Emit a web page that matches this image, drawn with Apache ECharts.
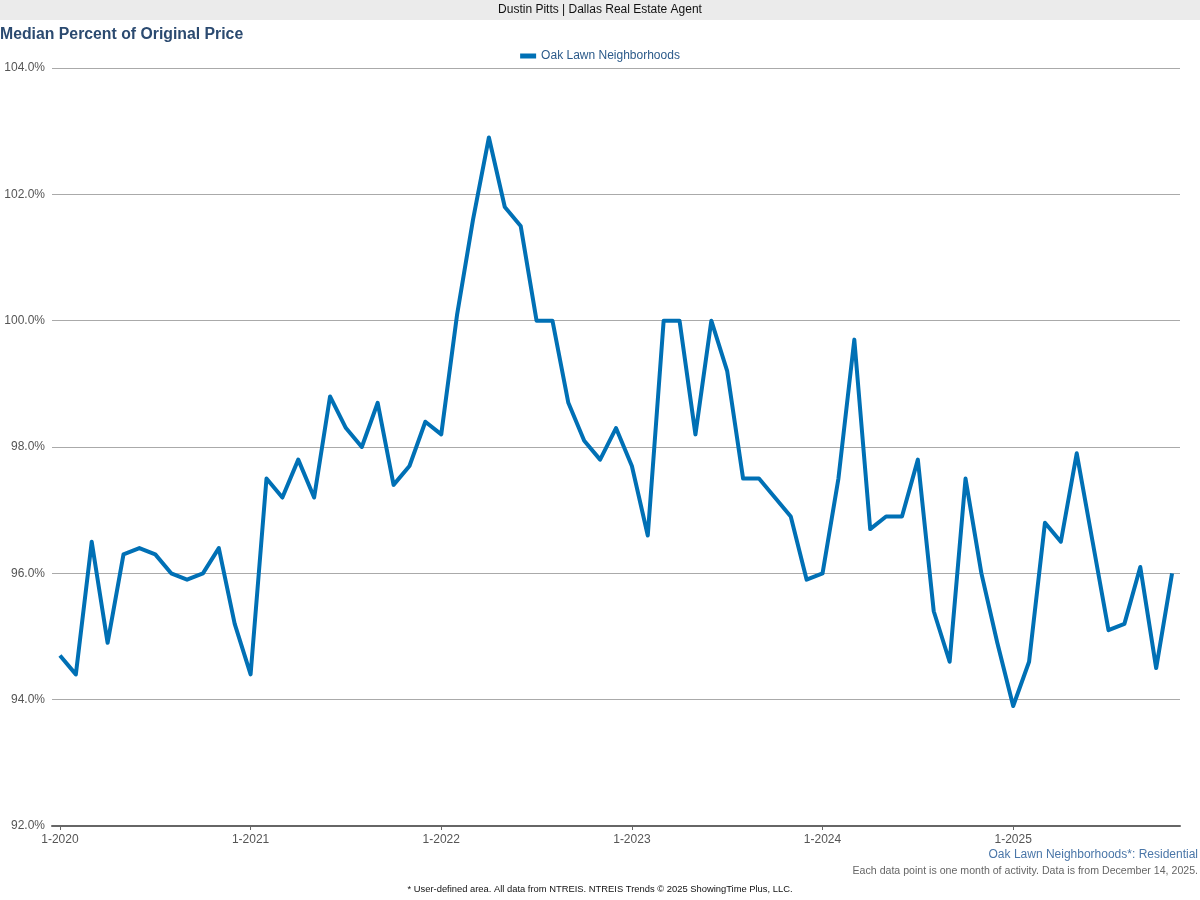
<!DOCTYPE html>
<html>
<head>
<meta charset="utf-8">
<script src="https://cdn.jsdelivr.net/npm/echarts@6/dist/echarts.min.js"></script>
<style>html,body{margin:0;padding:0;background:#fff}#c{width:1200px;height:900px}</style>
</head>
<body>
<div id="c"></div>
<script>
const seriesName = 'Oak Lawn Neighborhoods';
const months = [];
for (let y = 2020; y <= 2025; y++) for (let m = 1; m <= 12; m++) months.push(m + '-' + y);
const categories = months.slice(0, 71);
const values = [
  94.7, 94.4, 96.5, 94.9, 96.3, 96.4, 96.3, 96.0, 95.9, 96.0, 96.4, 95.2,
  94.4, 97.5, 97.2, 97.8, 97.2, 98.8, 98.3, 98.0, 98.7, 97.4, 97.7, 98.4,
  98.2, 100.1, 101.6, 102.9, 101.8, 101.5, 100.0, 100.0, 98.7, 98.1, 97.8, 98.3,
  97.7, 96.6, 100.0, 100.0, 98.2, 100.0, 99.2, 97.5, 97.5, 97.2, 96.9, 95.9,
  96.0, 97.5, 99.7, 96.7, 96.9, 96.9, 97.8, 95.4, 94.6, 97.5, 96.0, 94.9,
  93.9, 94.6, 96.8, 96.5, 97.9, 96.5, 95.1, 95.2, 96.1, 94.5, 96.0
];
const yTicks = { min: 92, max: 104, interval: 2 };

const chart = echarts.init(document.getElementById('c'));
const font = 'Liberation Sans, Arial, sans-serif';
chart.setOption({
  animation: false,
  textStyle: { fontFamily: font },
  graphic: [
    { type: 'rect', left: 0, top: 0, shape: { width: 1200, height: 20 }, style: { fill: '#ebebeb' }, silent: true },
    { type: 'text', left: 'center', top: 4, style: { text: 'Dustin Pitts | Dallas Real Estate Agent', fill: '#111', font: '12px ' + font } },
    { type: 'text', right: 2, top: 849, style: { text: 'Oak Lawn Neighborhoods*: Residential', fill: '#4a76a8', font: '12px ' + font } },
    { type: 'text', right: 2, top: 866, style: { text: 'Each data point is one month of activity. Data is from December 14, 2025.', fill: '#666', font: '10.6px ' + font } },
    { type: 'text', left: 'center', top: 885, style: { text: '* User-defined area. All data from NTREIS. NTREIS Trends \u00a9 2025 ShowingTime Plus, LLC.', fill: '#111', font: '9.4px ' + font } }
  ],
  title: {
    text: 'Median Percent of Original Price',
    left: 0, top: 27,
    padding: 0,
    textStyle: { color: '#2b4a70', fontSize: 15.8, fontWeight: 'bold', fontFamily: font }
  },
  legend: {
    top: 45, left: 'center',
    itemWidth: 16, itemHeight: 5,
    icon: 'rect',
    textStyle: { color: '#2b5a8a', fontSize: 12, fontFamily: font },
    data: [seriesName]
  },
  grid: { left: 52, right: 20, top: 68, bottom: 74, containLabel: false },
  xAxis: {
    type: 'category',
    data: categories,
    boundaryGap: true,
    axisLine: { lineStyle: { color: '#666', width: 2 } },
    axisTick: { show: true, alignWithLabel: true, interval: 11, length: 4, lineStyle: { color: '#666', width: 1 } },
    axisLabel: { interval: 11, color: '#555', fontSize: 12, margin: 8 },
    splitLine: { show: false }
  },
  yAxis: {
    type: 'value',
    min: yTicks.min, max: yTicks.max, interval: yTicks.interval,
    axisLine: { show: false },
    axisTick: { show: false },
    axisLabel: { color: '#555', fontSize: 12, margin: 7, formatter: v => v.toFixed(1) + '%' },
    splitLine: { lineStyle: { color: '#aaa', width: 1 } }
  },
  series: [{
    name: seriesName,
    type: 'line',
    data: values,
    showSymbol: false,
    symbol: 'none',
    lineStyle: { color: '#0070b5', width: 4, join: 'round' },
    itemStyle: { color: '#0070b5' }
  }]
});
</script>
</body>
</html>
